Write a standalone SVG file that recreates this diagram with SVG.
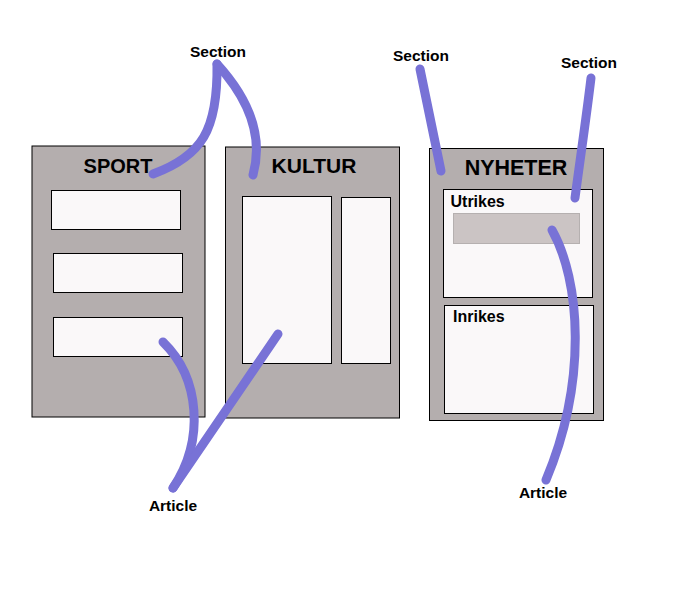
<svg xmlns="http://www.w3.org/2000/svg" width="700" height="600" viewBox="0 0 700 600">
<style>
.box{fill:#b4aeae;stroke:#000;stroke-width:1}
.in{fill:#faf8f9;stroke:#000;stroke-width:1}
.hd{font-family:"Liberation Sans",Arial,sans-serif;font-weight:bold;text-anchor:middle;fill:#000}
.sub{font-family:"Liberation Sans",Arial,sans-serif;font-weight:bold;font-size:16px;fill:#000}
.lbl{font-family:"Liberation Sans",Arial,sans-serif;font-weight:bold;font-size:15.5px;text-anchor:middle;fill:#000}
.c{fill:none;stroke:#7872d6;stroke-width:9;stroke-linecap:round;stroke-linejoin:round}
</style>
<rect width="700" height="600" fill="#fff"/>
<g id="sport">
<rect class="box" x="32" y="146" width="173" height="271"/>
<text class="hd" x="118" y="173" font-size="20">SPORT</text>
<rect class="in" x="51.5" y="190.5" width="129" height="39"/>
<rect class="in" x="53.5" y="253.5" width="129" height="39"/>
<rect class="in" x="53.5" y="317.5" width="129" height="39"/>
</g>
<g id="kultur">
<rect class="box" x="225.5" y="147" width="174" height="271"/>
<text class="hd" x="314" y="173" font-size="21">KULTUR</text>
<rect class="in" x="242.5" y="196.5" width="89" height="167"/>
<rect class="in" x="341.5" y="197.5" width="49" height="166"/>
</g>
<g id="nyheter">
<rect class="box" x="429.5" y="148.5" width="174" height="272"/>
<text class="hd" x="516" y="175" font-size="21.5">NYHETER</text>
<rect class="in" x="443.5" y="189.5" width="149" height="108"/>
<text class="sub" x="450.5" y="207">Utrikes</text>
<rect x="453.5" y="213.5" width="126" height="30" fill="#cbc4c4" stroke="#b5b0b0" stroke-width="1"/>
<rect class="in" x="444.5" y="305.5" width="149" height="108"/>
<text class="sub" x="453" y="322">Inrikes</text>
</g>
<g id="labels">
<text class="lbl" x="218" y="57">Section</text>
<text class="lbl" x="421" y="61">Section</text>
<text class="lbl" x="589" y="68">Section</text>
<text class="lbl" x="173" y="511">Article</text>
<text class="lbl" x="543" y="498">Article</text>
</g>
<g id="connectors">
<path class="c" d="M153,174 C202,156 218,130 217,64"/>
<path class="c" d="M217,64 C248,98 264,135 253,175"/>
<path class="c" d="M420,69 L441,171"/>
<path class="c" d="M591,78 C586,120 580,160 575,198"/>
<path class="c" d="M552,230 C580,280 588,380 546,480"/>
<path class="c" d="M163,342 C200,378 205,440 173,488"/>
<path class="c" d="M278,334 L173,488"/>
</g>
</svg>
